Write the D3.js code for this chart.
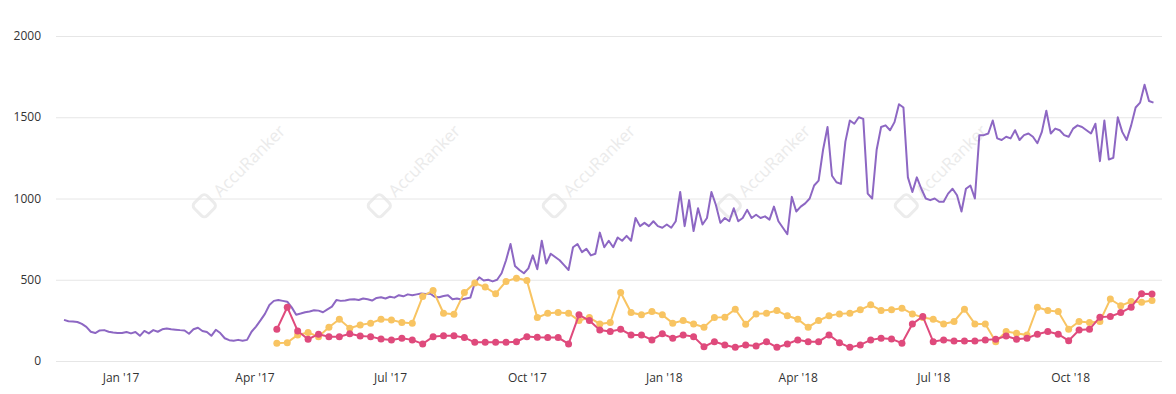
<!DOCTYPE html>
<html>
<head>
<meta charset="utf-8">
<script src="https://cdn.jsdelivr.net/npm/d3@7"></script>
<style>
  body { margin: 0; background: #fff; }
  svg text { font-family: "Open Sans", sans-serif; }
</style>
</head>
<body>
<svg id="chart" width="1176" height="394"></svg>
<script>
// purple series: one reading every 3 days starting 24 Nov 2016
var trafficStart = Date.UTC(2016, 10, 24)
var trafficStepDays = 3
var traffic = [
  253, 245, 243, 240, 228, 210, 180, 172, 188, 190,
  180, 175, 172, 172, 178, 170, 178, 155, 185, 170,
  190, 180, 195, 200, 195, 193, 190, 188, 168, 195,
  205, 185, 178, 155, 192, 172, 140, 128, 125, 130,
  125, 130, 180, 212, 250, 290, 345, 370, 375, 370,
  365, 330, 285, 292, 300, 305, 312, 310, 300, 318,
  335, 375, 370, 372, 378, 380, 375, 385, 380, 372,
  388, 392, 385, 395, 390, 405, 398, 410, 405, 410,
  415, 412, 415, 395, 392, 400, 405, 380, 385, 378,
  385, 390, 480, 515, 495, 500, 490, 500, 540, 620,
  720, 585, 560, 540, 570, 650, 565, 740, 600, 660,
  640, 620, 590, 560, 700, 720, 670, 690, 650, 660,
  790, 700, 740, 700, 760, 740, 770, 740, 880, 830,
  850, 830, 860, 830, 820, 840, 820, 860, 1040, 830,
  990, 800, 940, 840, 880, 1040, 960, 850, 880, 860,
  940, 860, 880, 930, 880, 900, 880, 890, 870, 950,
  860, 820, 780, 1010, 920, 950, 970, 1000, 1080, 1110,
  1300, 1440, 1140, 1100, 1090, 1350, 1480, 1460, 1500, 1490,
  1030, 1000, 1300, 1440, 1450, 1420, 1470, 1580, 1560, 1130,
  1040, 1130, 1060, 1000, 990, 1000, 980, 980, 1030, 1060,
  1020, 920, 1060, 1080, 1000, 1390, 1390, 1400, 1480, 1370,
  1360, 1380, 1370, 1420, 1360, 1390, 1400, 1380, 1340, 1410,
  1540, 1400, 1430, 1420, 1390, 1380, 1430, 1450, 1440, 1420,
  1400, 1460, 1230, 1480, 1240, 1250, 1500, 1410, 1360, 1450,
  1560, 1590, 1700, 1600, 1590
]

// weekly series starting 16 Apr 2017
var weeklyStart = Date.UTC(2017, 3, 16)
var orangeSeries = [
  109, 113, 160, 175, 150, 208, 257, 202, 222, 233,
  257, 253, 237, 233, 397, 434, 294, 288, 422, 480,
  455, 414, 490, 510, 496, 267, 294, 298, 294, 249,
  267, 228, 237, 422, 298, 284, 304, 284, 233, 249,
  228, 208, 267, 270, 319, 226, 290, 294, 311, 278,
  257, 208, 249, 278, 290, 294, 315, 346, 311, 315,
  325, 290, 267, 257, 228, 243, 319, 228, 228, 119,
  181, 171, 160, 331, 311, 304, 195, 243, 237, 243,
  381, 340, 366, 362, 372
]
var pinkSeries = [
  195, 331, 185, 134, 165, 150, 150, 167, 154, 150,
  136, 130, 140, 130, 105, 150, 156, 156, 144, 115,
  115, 115, 115, 119, 150, 146, 144, 144, 105, 284,
  249, 191, 181, 195, 160, 160, 130, 167, 140, 160,
  150, 88, 119, 99, 84, 99, 93, 119, 84, 105,
  130, 119, 119, 160, 113, 84, 99, 130, 140, 136,
  109, 228, 274, 119, 130, 123, 123, 123, 130, 134,
  154, 134, 140, 165, 181, 165, 125, 191, 195, 270,
  274, 298, 331, 414, 412
]

var yTicks = [0, 500, 1000, 1500, 2000]
var xTickDates = [
  Date.UTC(2017, 0, 1), Date.UTC(2017, 3, 1), Date.UTC(2017, 6, 1), Date.UTC(2017, 9, 1),
  Date.UTC(2018, 0, 1), Date.UTC(2018, 3, 1), Date.UTC(2018, 6, 1), Date.UTC(2018, 9, 1)
]
var xTickLabels = ["Jan '17", "Apr '17", "Jul '17", "Oct '17", "Jan '18", "Apr '18", "Jul '18", "Oct '18"]

var DAY = 86400000
var trafficData = traffic.map((v, i) => ({ date: new Date(trafficStart + i * trafficStepDays * DAY), value: v }))
var orangeData = orangeSeries.map((v, i) => ({ date: new Date(weeklyStart + i * 7 * DAY), value: v }))
var pinkData = pinkSeries.map((v, i) => ({ date: new Date(weeklyStart + i * 7 * DAY), value: v }))

var plotLeft = 56, plotRight = 1162, plotTop = 36, plotBottom = 361

var svg = d3.select('#chart')

var x = d3.scaleUtc()
    .domain([new Date(Date.UTC(2016, 10, 24)), new Date(Date.UTC(2018, 10, 25))])
    .range([64, 1152])
var y = d3.scaleLinear().domain([0, 2000]).range([plotBottom, plotTop])

// watermarks
var marks = svg.append("g").attr("class", "watermarks")
;[205, 380, 555, 730, 907].forEach(function(px) {
    var g = marks.append("g").attr("transform", "translate(" + px + ",205) rotate(-45)")
    g.append("rect")
        .attr("x", -10).attr("y", -9).attr("width", 18).attr("height", 18).attr("rx", 4)
        .style("fill", "none").style("stroke", "#ececec").style("stroke-width", 3)
    g.append("text")
        .attr("x", 16).attr("y", 6)
        .style("font-size", "17px")
        .style("fill", "#ebebeb")
        .text("AccuRanker")
})

// grid
svg.append("g")
    .selectAll("line")
    .data(yTicks)
    .enter()
    .append("line")
    .attr("x1", plotLeft).attr("x2", plotRight)
    .attr("y1", d => y(d) + 0.5).attr("y2", d => y(d) + 0.5)
    .style("stroke", "#e6e6e6")
    .style("stroke-width", 1)

svg.append("g")
    .selectAll("text")
    .data(yTicks)
    .enter()
    .append("text")
    .attr("x", 41)
    .attr("y", d => y(d) + 4)
    .attr("text-anchor", "end")
    .style("font-size", "12px")
    .style("fill", "#333")
    .text(d => d)

var xAxis = svg.append("g")
    .attr("transform", "translate(0," + plotBottom + ")")
    .call(d3.axisBottom(x)
        .tickValues(xTickDates.map(d => new Date(d)))
        .tickFormat((d, i) => xTickLabels[i])
        .tickSize(0)
        .tickPadding(12))
xAxis.select(".domain").remove()
xAxis.selectAll("text")
    .style("font-size", "12px")
    .style("fill", "#333")
    .style("font-family", "'Open Sans', sans-serif")

var line = d3.line()
    .x(d => x(d.date))
    .y(d => y(d.value))

svg.append("path")
    .datum(trafficData)
    .attr("d", line)
    .style("fill", "none")
    .style("stroke", "#8d67c3")
    .style("stroke-width", 2)
    .style("stroke-linejoin", "round")

function weekly(data, color) {
    svg.append("path")
        .datum(data)
        .attr("d", line)
        .style("fill", "none")
        .style("stroke", color)
        .style("stroke-width", 2)
    svg.append("g")
        .selectAll("circle")
        .data(data)
        .enter()
        .append("circle")
        .attr("cx", d => x(d.date))
        .attr("cy", d => y(d.value))
        .attr("r", 3.5)
        .style("fill", color)
}

weekly(orangeData, "#f8c462")
weekly(pinkData, "#df4a7c")
</script>
</body>
</html>
